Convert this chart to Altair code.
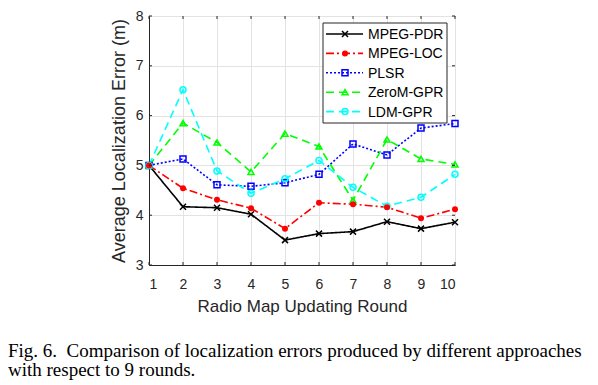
import altair as alt
import pandas as pd

rounds = list(range(1, 11))
series = ["MPEG-PDR", "MPEG-LOC", "PLSR", "ZeroM-GPR", "LDM-GPR"]
mpeg_pdr = [5.00, 4.17, 4.15, 4.02, 3.50, 3.63, 3.67, 3.87, 3.73, 3.86]
mpeg_loc = [5.00, 4.54, 4.31, 4.14, 3.73, 4.25, 4.22, 4.16, 3.94, 4.12]
plsr = [5.00, 5.13, 4.61, 4.58, 4.65, 4.82, 5.43, 5.21, 5.75, 5.84]
zerom_gpr = [5.00, 5.85, 5.46, 4.87, 5.64, 5.38, 4.30, 5.52, 5.13, 5.02]
ldm_gpr = [5.00, 6.52, 4.89, 4.44, 4.73, 5.10, 4.56, 4.18, 4.36, 4.82]
y_ticks = [3, 4, 5, 6, 7, 8]
caption_1 = "Fig. 6.\u00a0 Comparison of localization errors produced by different approaches"
caption_2 = "with respect to 9 rounds."

colors = ["#000000", "#ff0000", "#0000ff", "#00ff00", "#00ffff"]
dashes = [[1, 0], [8, 3, 2, 3], [2, 2], [8, 5], [8, 5]]
shapes = ["M-1,-1L1,1M-1,1L1,-1", "circle", "square", "triangle-up", "circle"]
sizes = [36, 36, 40, 100, 70]

W, H = 306, 249

rows = []
for s, vals in zip(series, [mpeg_pdr, mpeg_loc, plsr, zerom_gpr, ldm_gpr]):
    for r, v in zip(rounds, vals):
        rows.append({"series": s, "round": r, "value": v})
df = pd.DataFrame(rows)

color_enc = alt.Color("series:N", scale=alt.Scale(domain=series, range=colors), legend=None)
dash_enc = alt.StrokeDash("series:N", scale=alt.Scale(domain=series, range=dashes), legend=None)
shape_enc = alt.Shape("series:N", scale=alt.Scale(domain=series, range=shapes), legend=None)
size_enc = alt.Size("series:N", scale=alt.Scale(domain=series, range=sizes), legend=None)

x_axis = alt.Axis(values=rounds, format="d", title="Radio Map Updating Round",
                  labelPadding=12, titlePadding=7, labelOverlap=False)
y_axis = alt.Axis(values=y_ticks, format="d", title="Average Localization Error (m)",
                  labelPadding=6, titlePadding=7, titleFontSize=18, labelOverlap=False)
x_scale = alt.Scale(domain=[1, 10], nice=False, zero=False)
y_scale = alt.Scale(domain=[3, 8], nice=False, zero=False)
x_enc = alt.X("round:Q", scale=x_scale, axis=x_axis)
y_enc = alt.Y("value:Q", scale=y_scale, axis=y_axis)

base = alt.Chart(df)
lines = base.mark_line(strokeWidth=1.6).encode(x=x_enc, y=y_enc, color=color_enc,
                                                strokeDash=dash_enc, order="round:Q")
open_pts = base.transform_filter(alt.datum.series != "MPEG-LOC").mark_point(
    filled=False, strokeWidth=1.5, opacity=1).encode(
    x=x_enc, y=y_enc, color=color_enc, shape=shape_enc, size=size_enc)
filled_pts = base.transform_filter(alt.datum.series == "MPEG-LOC").mark_point(
    filled=True, opacity=1).encode(
    x=x_enc, y=y_enc, color=color_enc, shape=shape_enc, size=size_enc)

xt = pd.DataFrame({"round": rounds})
yt = pd.DataFrame({"value": y_ticks})
tick_style = dict(color="#262626", strokeWidth=1)
ticks = alt.layer(
    alt.Chart(xt).mark_rule(**tick_style).encode(x=x_enc, y=alt.value(H), y2=alt.value(H - 3)),
    alt.Chart(xt).mark_rule(**tick_style).encode(x=x_enc, y=alt.value(0), y2=alt.value(3)),
    alt.Chart(yt).mark_rule(**tick_style).encode(y=y_enc, x=alt.value(0), x2=alt.value(3)),
    alt.Chart(yt).mark_rule(**tick_style).encode(y=y_enc, x=alt.value(W), x2=alt.value(W - 3)),
)

main = alt.layer(lines, open_pts, filled_pts, ticks)

leg_df = pd.DataFrame({"series": series, "row": list(range(len(series)))})
leg_y = alt.Y("row:Q", scale=alt.Scale(domain=[0, 4], range=[18, 95.6]), axis=None)
box = alt.Chart(pd.DataFrame({"a": [0]})).mark_rect(
    fill="white", stroke="#262626", strokeWidth=1).encode(
    x=alt.value(174), x2=alt.value(298), y=alt.value(7), y2=alt.value(107))
leg_lines = alt.Chart(leg_df).mark_rule(strokeWidth=1.6).encode(
    x=alt.value(177), x2=alt.value(214), y=leg_y, color=color_enc, strokeDash=dash_enc)
leg_open = alt.Chart(leg_df).transform_filter(alt.datum.series != "MPEG-LOC").mark_point(
    filled=False, strokeWidth=1.5, opacity=1).encode(
    x=alt.value(196), y=leg_y, color=color_enc, shape=shape_enc, size=size_enc)
leg_filled = alt.Chart(leg_df).transform_filter(alt.datum.series == "MPEG-LOC").mark_point(
    filled=True, opacity=1).encode(
    x=alt.value(196), y=leg_y, color=color_enc, shape=shape_enc, size=size_enc)
leg_text = alt.Chart(leg_df).mark_text(
    align="left", baseline="middle", font="Liberation Sans", fontSize=14, color="#000000", dy=1).encode(
    x=alt.value(219), y=leg_y, text="series:N")

cap_df = pd.DataFrame({"line": [caption_1, caption_2], "k": [0, 1]})
caption = alt.Chart(cap_df).mark_text(
    align="left", baseline="alphabetic", font="Liberation Serif", fontSize=19, color="#000000").encode(
    x=alt.value(-141),
    y=alt.Y("k:Q", scale=alt.Scale(domain=[0, 1], range=[341, 359.5]), axis=None),
    text="line:N")

legend_layer = alt.layer(box, leg_lines, leg_open, leg_filled, leg_text)

chart = alt.layer(main, legend_layer, caption).resolve_scale(
    x="independent", y="independent").properties(
    width=W, height=H,
    autosize=alt.AutoSizeParams(type="none"),
    padding={"left": 141, "top": 8, "right": 135, "bottom": 116},
).configure_view(stroke="#262626", strokeWidth=1).configure_axis(
    labelFont="Liberation Sans", labelFontSize=14, labelColor="#262626",
    titleFont="Liberation Sans", titleFontSize=17, titleFontWeight="normal", titleColor="#262626",
    domainColor="#262626", domainWidth=1, gridColor="#e3e3e3", gridWidth=1, ticks=False,
)

chart.save("out.html", embed_options={"renderer": "svg", "actions": False})
